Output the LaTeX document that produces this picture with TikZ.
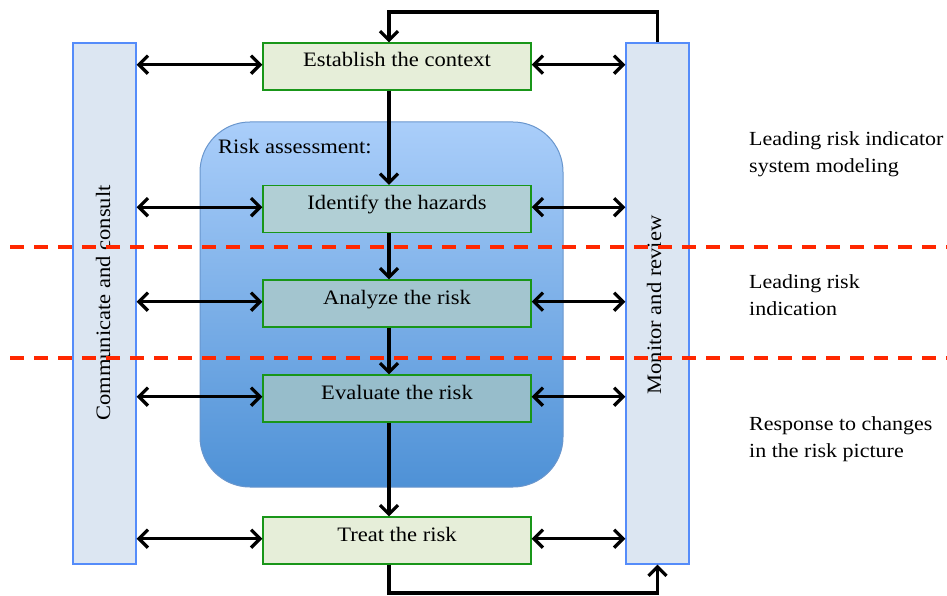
\documentclass[tikz,border=0pt]{standalone}
\usepackage{fontspec}
\setmainfont{Liberation Serif}[FakeStretch=1.1]
\usetikzlibrary{arrows.meta,calc}
\definecolor{barfill}{RGB}{220,230,242}
\definecolor{barline}{RGB}{85,140,250}
\definecolor{stepfill}{RGB}{230,238,217}
\definecolor{stepline}{RGB}{25,150,25}
\definecolor{idfill}{RGB}{177,207,213}
\definecolor{anfill}{RGB}{163,197,207}
\definecolor{evfill}{RGB}{151,189,203}
\definecolor{rtop}{RGB}{170,206,250}
\definecolor{rbot}{RGB}{78,145,214}
\definecolor{rline}{RGB}{105,150,205}
\definecolor{zone}{RGB}{255,40,0}
\tikzset{
  txt/.style={font=\fontsize{20.5}{24}\selectfont},
  bar/.style={draw=barline, line width=1.4pt, fill=barfill, minimum width=63pt, minimum height=521pt, inner sep=0pt},
  stepbox/.style={draw=stepline, line width=1.4pt, minimum width=268pt, minimum height=47pt,
    inner xsep=0pt, inner ysep=0pt, text height=24pt, text depth=23pt, txt},
  flow/.style={line width=3.4pt, -{Straight Barb[length=9pt,width=18pt,line width=3.2pt]}},
  both/.style={line width=3.4pt, {Straight Barb[length=9pt,width=18pt,line width=3.2pt]}-{Straight Barb[length=9pt,width=18pt,line width=3.2pt]}},
  zoneline/.style={draw=zone, line width=3.6pt, dash pattern=on 14pt off 10pt},
  note/.style={anchor=north west, align=left, inner sep=0pt, font=\fontsize{20}{27}\selectfont},
}
\begin{document}
\begin{tikzpicture}[x=1pt,y=-1pt]
\useasboundingbox (0,0) rectangle (947,596);

% risk assessment panel
\node[draw=rline, line width=1pt, rounded corners=50pt, top color=rtop, bottom color=rbot,
      minimum width=363pt, minimum height=365pt, inner sep=0pt] (panel) at (381.5,304.5) {};
\node[anchor=west, inner sep=0pt, txt] (panellabel) at (218,147) {Risk assessment:};

% side bars
\node[bar] (lbar) at (104.5,303.5) {};
\node[bar] (rbar) at (657.5,303.5) {};
\node[rotate=90, txt] (lbartext) at (103,303) {Communicate and consult};
\node[rotate=90, txt] (rbartext) at (654,305) {Monitor and review};

% process steps
\node[stepbox, fill=stepfill] (ctx) at (397,66.5) {Establish the context};
\node[stepbox, fill=idfill] (haz) at (397,209) {Identify the hazards};
\node[stepbox, fill=anfill] (ana) at (397,303.5) {Analyze the risk};
\node[stepbox, fill=evfill] (eva) at (397,398.5) {Evaluate the risk};
\node[stepbox, fill=stepfill] (trt) at (397,540.5) {Treat the risk};

\coordinate (spine) at (389,0);
\coordinate (top) at (0,12);
\coordinate (bot) at (0,593);

% main flow
\draw[flow] (spine |- ctx.south) -- (spine |- haz.north);
\draw[flow] (spine |- haz.south) -- (spine |- ana.north);
\draw[flow] (spine |- ana.south) -- (spine |- eva.north);
\draw[flow] (spine |- eva.south) -- (spine |- trt.north);

% feedback loops
\draw[flow] (rbar.north) -- (rbar.north |- top) -- (spine |- top) -- (spine |- ctx.north);
\draw[flow] (spine |- trt.south) -- (spine |- bot) -- (rbar.south |- bot) -- (rbar.south);

% communication links
\foreach \s in {ctx,haz,ana,eva,trt}{
  \draw[both] (lbar.east |- \s.mid west) -- (\s.mid west);
  \draw[both] (\s.mid east) -- (rbar.west |- \s.mid east);
}

% zone boundaries
\coordinate (z1l) at (10,247);
\coordinate (z1r) at (947,247);
\coordinate (z2l) at (10,358);
\coordinate (z2r) at (947,358);
\draw[zoneline] (z1l) -- (z1r);
\draw[zoneline] (z2l) -- (z2r);

% zone notes
\node[note] (n1) at (749,131) {Leading risk indicator\\system modeling};
\node[note] (n2) at (749,274) {Leading risk\\indication};
\node[note] (n3) at (749,416) {Response to changes\\in the risk picture};
\end{tikzpicture}
\end{document}
